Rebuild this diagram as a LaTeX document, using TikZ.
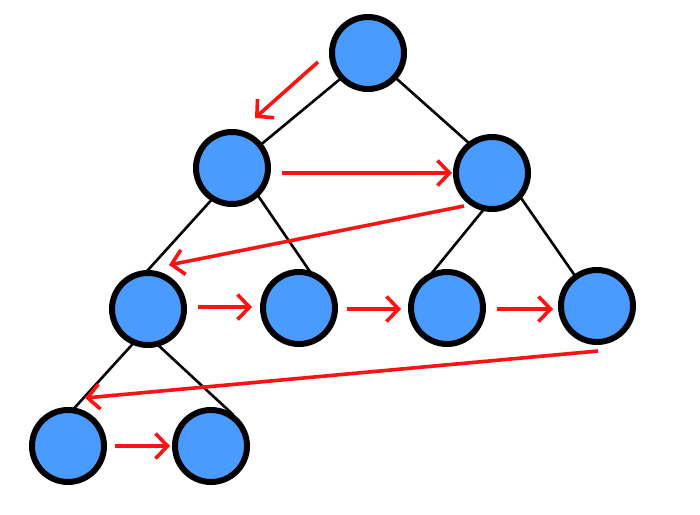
\documentclass[tikz,border=0pt]{standalone}
\usetikzlibrary{arrows.meta,calc,backgrounds}
\definecolor{nodeblue}{RGB}{74,155,255}
\definecolor{flowred}{RGB}{255,18,18}
\tikzset{
  treenode/.style={circle,draw=black,fill=nodeblue,line width=6pt,minimum size=72pt,inner sep=0pt},
  treeedge/.style={draw=black,line width=2.6pt,shorten <=-4pt,shorten >=-4pt},
  flow/.style={draw=flowred,line width=3.6pt,-{Straight Barb[length=12pt,width=25pt,line width=3.6pt]}}
}
\begin{document}
\begin{tikzpicture}[x=1pt,y=-1pt]
\useasboundingbox (0,0) rectangle (700,514);
\node[treenode] (root) at (368,53) {};
\node[treenode] (L1a) at (232,168) {};
\node[treenode] (L1b) at (492,173) {};
\node[treenode] (L2a) at (148,309) {};
\node[treenode] (L2b) at (299,308) {};
\node[treenode] (L2c) at (447,308) {};
\node[treenode] (L2d) at (597,306) {};
\node[treenode] (L3a) at (68,446) {};
\node[treenode] (L3b) at (211,446) {};
\begin{pgfonlayer}{background}
\draw[treeedge] (root.223) -- (L1a.39);
\draw[treeedge] (root.318) -- (L1b.128);
\draw[treeedge] (L1a.237) -- (L2a.90);
\draw[treeedge] (L1a.313) -- (L2b.75);
\draw[treeedge] (L1b.256) -- (L2c.111);
\draw[treeedge] (L1b.319) -- (L2d.126);
\draw[treeedge] (L2a.246) -- (L3a.80);
\draw[treeedge] (L2a.287) -- (L3b.60);
\end{pgfonlayer}
\draw[flow] ($(root)+(-50,9)$) -- ($(L1a)+(23,-50)$);
\draw[flow] ($(L1a)+(50,5)$) -- ($(L1b)+(-40,0)$);
\draw[flow] ($(L1b)+(-28,33)$) -- ($(L2a)+(21,-44)$);
\draw[flow] ($(L2a)+(50,-2)$) -- ($(L2b)+(-47,-1)$);
\draw[flow] ($(L2b)+(48,1)$) -- ($(L2c)+(-46,1)$);
\draw[flow] ($(L2c)+(50,1)$) -- ($(L2d)+(-44,3)$);
\draw[flow] ($(L2d)+(1,45)$) -- ($(L3a)+(17,-48)$);
\draw[flow] ($(L3a)+(47,0)$) -- ($(L3b)+(-41,0)$);
\end{tikzpicture}
\end{document}
